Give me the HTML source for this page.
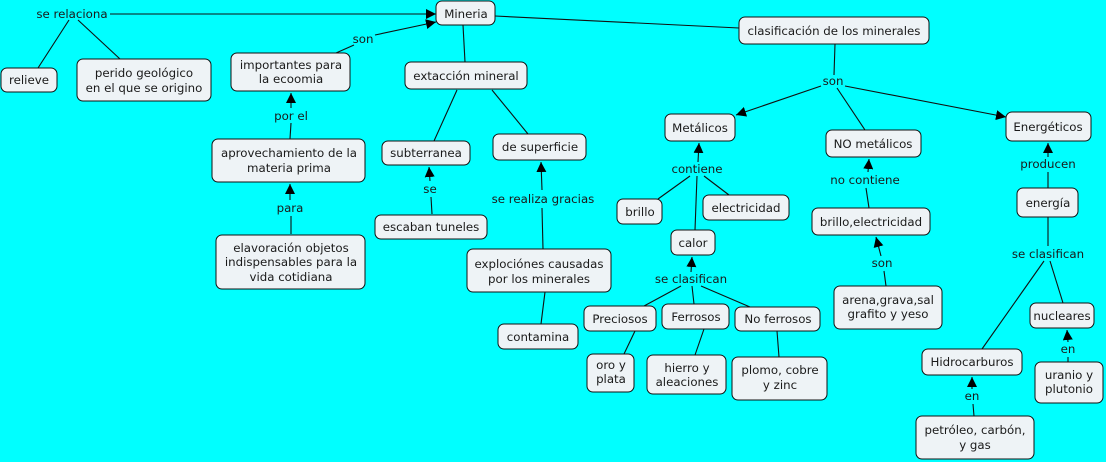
<!DOCTYPE html>
<html><head><meta charset="utf-8"><style>
html,body{margin:0;padding:0;background:#00ffff;}
svg{display:block;}
text{font-family:"DejaVu Sans","Liberation Sans",sans-serif;font-size:11.8px;fill:#1a1a1a;}
rect{fill:#eef3f6;stroke:#111;stroke-width:1;}
line{stroke:#111;stroke-width:1.1;}
</style></head><body>
<svg width="1106" height="462" viewBox="0 0 1106 462">
<defs><marker id="a" viewBox="0 0 10 10" refX="10" refY="5" markerWidth="10" markerHeight="10" markerUnits="userSpaceOnUse" orient="auto"><path d="M0,0 L10,5 L0,10 z" fill="#000"/></marker></defs>
<g>
<line x1="110" y1="14" x2="436" y2="14" marker-end="url(#a)"/>
<line x1="69" y1="20" x2="38" y2="68"/>
<line x1="78" y1="20" x2="120" y2="59"/>
<line x1="336" y1="53" x2="354" y2="45"/>
<line x1="375" y1="35" x2="436" y2="22" marker-end="url(#a)"/>
<line x1="463" y1="25" x2="465" y2="62"/>
<line x1="495" y1="16" x2="739" y2="28"/>
<line x1="457" y1="90" x2="434" y2="141"/>
<line x1="492" y1="90" x2="528" y2="134"/>
<line x1="290" y1="139" x2="291" y2="123"/>
<line x1="291" y1="108" x2="291" y2="93" marker-end="url(#a)"/>
<line x1="291" y1="234" x2="291" y2="216"/>
<line x1="290" y1="200" x2="290" y2="184" marker-end="url(#a)"/>
<line x1="432" y1="214" x2="431" y2="197"/>
<line x1="430" y1="181" x2="429" y2="167" marker-end="url(#a)"/>
<line x1="543" y1="249" x2="542" y2="208"/>
<line x1="542" y1="190" x2="541" y2="162" marker-end="url(#a)"/>
<line x1="545" y1="292" x2="541" y2="324"/>
<line x1="835" y1="44" x2="834" y2="75"/>
<line x1="821" y1="86" x2="736" y2="115" marker-end="url(#a)"/>
<line x1="837" y1="88" x2="865" y2="130"/>
<line x1="845" y1="86" x2="1006" y2="117" marker-end="url(#a)"/>
<line x1="698" y1="162" x2="699" y2="143" marker-end="url(#a)"/>
<line x1="658" y1="199" x2="690" y2="176"/>
<line x1="729" y1="195" x2="704" y2="176"/>
<line x1="695" y1="230" x2="697" y2="176"/>
<line x1="868" y1="172" x2="869" y2="159" marker-end="url(#a)"/>
<line x1="869" y1="208" x2="866" y2="188"/>
<line x1="886" y1="286" x2="884" y2="271"/>
<line x1="881" y1="256" x2="876" y2="237" marker-end="url(#a)"/>
<line x1="1048" y1="188" x2="1048" y2="172"/>
<line x1="1048" y1="157" x2="1048" y2="143" marker-end="url(#a)"/>
<line x1="1048" y1="217" x2="1048" y2="246"/>
<line x1="1044" y1="261" x2="982" y2="349"/>
<line x1="1050" y1="261" x2="1063" y2="303"/>
<line x1="1068" y1="362" x2="1068" y2="357"/>
<line x1="1068" y1="342" x2="1067" y2="330" marker-end="url(#a)"/>
<line x1="974" y1="416" x2="973" y2="404"/>
<line x1="972" y1="389" x2="972" y2="377" marker-end="url(#a)"/>
<line x1="691" y1="272" x2="692" y2="257" marker-end="url(#a)"/>
<line x1="681" y1="286" x2="644" y2="306"/>
<line x1="692" y1="286" x2="694" y2="304"/>
<line x1="701" y1="286" x2="750" y2="307"/>
<line x1="635" y1="331" x2="624" y2="354"/>
<line x1="704" y1="329" x2="695" y2="355"/>
<line x1="777" y1="331" x2="779" y2="357"/>
</g>
<g>
<rect x="436" y="1" width="59" height="24" rx="6"/>
<rect x="739" y="17" width="190" height="27" rx="6"/>
<rect x="1" y="68" width="56" height="24" rx="6"/>
<rect x="77" y="59" width="134" height="42" rx="6"/>
<rect x="231" y="53" width="119" height="38" rx="6"/>
<rect x="405" y="62" width="122" height="27" rx="6"/>
<rect x="212" y="139" width="153" height="43" rx="6"/>
<rect x="382" y="141" width="88" height="24" rx="6"/>
<rect x="493" y="134" width="93" height="26" rx="6"/>
<rect x="375" y="215" width="112" height="24" rx="6"/>
<rect x="216" y="235" width="149" height="54" rx="6"/>
<rect x="467" y="249" width="144" height="43" rx="6"/>
<rect x="498" y="324" width="80" height="25" rx="6"/>
<rect x="665" y="114" width="70" height="27" rx="6"/>
<rect x="826" y="130" width="95" height="27" rx="6"/>
<rect x="1006" y="112" width="85" height="29" rx="6"/>
<rect x="617" y="199" width="45" height="25" rx="6"/>
<rect x="703" y="195" width="86" height="25" rx="6"/>
<rect x="671" y="230" width="44" height="25" rx="6"/>
<rect x="812" y="208" width="118" height="27" rx="6"/>
<rect x="1017" y="188" width="61" height="29" rx="6"/>
<rect x="584" y="306" width="72" height="25" rx="6"/>
<rect x="662" y="304" width="67" height="25" rx="6"/>
<rect x="735" y="307" width="85" height="24" rx="6"/>
<rect x="587" y="354" width="47" height="38" rx="6"/>
<rect x="647" y="355" width="79" height="39" rx="6"/>
<rect x="732" y="357" width="95" height="43" rx="6"/>
<rect x="834" y="286" width="108" height="43" rx="6"/>
<rect x="922" y="349" width="100" height="26" rx="6"/>
<rect x="1030" y="303" width="64" height="25" rx="6"/>
<rect x="1035" y="362" width="68" height="41" rx="6"/>
<rect x="916" y="416" width="118" height="43" rx="6"/>
</g>
<g text-anchor="middle">
<text x="466" y="18">Mineria</text>
<text x="834" y="35">clasificación de los minerales</text>
<text x="29" y="84">relieve</text>
<text x="144" y="77">perido geológico</text>
<text x="144" y="92">en el que se origino</text>
<text x="291" y="69">importantes para</text>
<text x="291" y="83">la ecoomia</text>
<text x="466" y="80">extacción mineral</text>
<text x="289" y="157">aprovechamiento de la</text>
<text x="289" y="172">materia prima</text>
<text x="426" y="157">subterranea</text>
<text x="540" y="151">de superficie</text>
<text x="431" y="231">escaban tuneles</text>
<text x="291" y="252">elavoración objetos</text>
<text x="291" y="266">indispensables para la</text>
<text x="291" y="281">vida cotidiana</text>
<text x="539" y="268">exploci&#243;nes causadas</text>
<text x="539" y="283">por los minerales</text>
<text x="538" y="341">contamina</text>
<text x="700" y="132">Metálicos</text>
<text x="873" y="148">NO metálicos</text>
<text x="1048" y="131">Energéticos</text>
<text x="640" y="216">brillo</text>
<text x="746" y="212">electricidad</text>
<text x="693" y="247">calor</text>
<text x="871" y="226">brillo,electricidad</text>
<text x="1048" y="207">energía</text>
<text x="620" y="323">Preciosos</text>
<text x="696" y="321">Ferrosos</text>
<text x="778" y="323">No ferrosos</text>
<text x="611" y="369">oro y</text>
<text x="611" y="383">plata</text>
<text x="687" y="372">hierro y</text>
<text x="687" y="386">aleaciones</text>
<text x="780" y="374">plomo, cobre</text>
<text x="780" y="389">y zinc</text>
<text x="888" y="304">arena,grava,sal</text>
<text x="888" y="318">grafito y yeso</text>
<text x="972" y="366">Hidrocarburos</text>
<text x="1062" y="320">nucleares</text>
<text x="1069" y="379">uranio y</text>
<text x="1069" y="393">plutonio</text>
<text x="975" y="434">petróleo, carbón,</text>
<text x="975" y="449">y gas</text>
<text x="72" y="18">se relaciona</text>
<text x="363" y="43">son</text>
<text x="291" y="120">por el</text>
<text x="290" y="212">para</text>
<text x="430" y="193">se</text>
<text x="543" y="203">se realiza gracias</text>
<text x="833" y="85">son</text>
<text x="697" y="173">contiene</text>
<text x="865" y="184">no contiene</text>
<text x="1048" y="168">producen</text>
<text x="691" y="283">se clasifican</text>
<text x="882" y="267">son</text>
<text x="1048" y="258">se clasifican</text>
<text x="972" y="400">en</text>
<text x="1068" y="353">en</text>
</g>
</svg>
</body></html>
